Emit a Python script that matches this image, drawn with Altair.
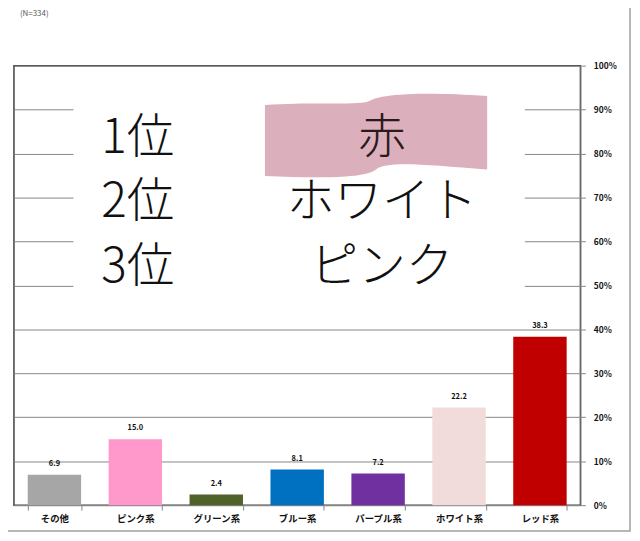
import altair as alt
import pandas as pd

categories = ["その他", "ピンク系", "グリーン系", "ブルー系", "パープル系", "ホワイト系", "レッド系"]
values = [6.9, 15.0, 2.4, 8.1, 7.2, 22.2, 38.3]
colors = ["#A6A6A6", "#FF99CC", "#4F6228", "#0070C0", "#7030A0", "#F2DCDB", "#C00000"]
ranks = ["1位", "2位", "3位"]
names = ["赤", "ホワイト", "ピンク"]
note = "(N=334)"

df = pd.DataFrame({"cat": categories, "val": values, "col": colors,
                   "lab": [f"{v:.1f}" for v in values]})
one = pd.DataFrame({"k": [0]})

FONT = "Noto Sans CJK JP"

xenc = alt.X("cat:N", sort=categories, title=None,
             scale=alt.Scale(paddingInner=0.34, paddingOuter=0.17),
             axis=alt.Axis(orient="bottom", labelAngle=0, domainColor="#868686",
                           tickColor="#868686", tickSize=5, tickBand="extent",
                           labelFontSize=9.5, labelFont=FONT, labelFontWeight="bold",
                           labelColor="#111111", labelPadding=3))
yenc = alt.Y("val:Q", title=None,
             scale=alt.Scale(domain=[0, 100], nice=False),
             axis=alt.Axis(orient="right", values=list(range(0, 101, 10)),
                           labelExpr="datum.value + '%'", grid=True,
                           gridColor="#868686", gridWidth=1, domainColor="#868686",
                           tickColor="#868686", tickSize=5, labelPadding=8,
                           labelFontSize=8.5, labelFont=FONT, labelColor="#111111",
                           labelFontWeight="bold"))

base = alt.Chart(df)
bars = base.mark_bar().encode(x=xenc, y=yenc, color=alt.Color("col:N", scale=None))
labels = base.mark_text(dy=-11, fontSize=7.5, fontWeight="bold", font=FONT,
                        color="#111111", baseline="middle").encode(
    x=alt.X("cat:N", sort=categories), y="val:Q", text="lab:N")

white_box = alt.Chart(one).mark_rect(color="white").encode(
    x=alt.value(60), x2=alt.value(515), y=alt.value(12), y2=alt.value(238))

banner_path = ("M-1,-0.28 C-0.5,-0.31 -0.15,-0.27 -0.05,-0.32 "
               "C0.05,-0.38 0.45,-0.4 1,-0.36 L1,0.30 "
               "C0.45,0.26 0.1,0.22 0,0.3 C-0.1,0.38 -0.5,0.38 -1,0.36 Z")
banner = alt.Chart(one).mark_point(shape=banner_path, filled=True, color="#DCAFBC",
                                   opacity=1, size=224 * 224).encode(
    x=alt.value(365), y=alt.value(71))

row_y = [74, 139, 204]
rank_layers = []
for i in range(3):
    rank_layers.append(alt.Chart(one).mark_text(
        text=ranks[i], font=FONT, fontSize=48, fontWeight=300, color="#111111",
        align="left", baseline="middle").encode(x=alt.value(88), y=alt.value(row_y[i])))
    rank_layers.append(alt.Chart(one).mark_text(
        text=names[i], font=FONT, fontSize=48, fontWeight=300,
        color="#2a1a1a" if i == 0 else "#111111",
        align="center", baseline="middle").encode(x=alt.value(371), y=alt.value(row_y[i])))

note_text = alt.Chart(one).mark_text(text=note, font=FONT, fontSize=8, color="#595959",
                                     align="left", baseline="middle").encode(
    x=alt.value(6), y=alt.value(-52))

outer = alt.Chart(one).mark_rect(filled=False, stroke="#A0A0A0", strokeWidth=1.5).encode(
    x=alt.value(-11), x2=alt.value(621), y=alt.value(-90), y2=alt.value(469))

chart = alt.layer(bars, labels, white_box, banner, *rank_layers, note_text, outer).properties(
    width=571, height=443,
    padding={"left": 6, "top": 56, "right": 52, "bottom": 30},
    autosize=alt.AutoSizeParams(type="none"),
).configure_view(stroke="#404040", strokeWidth=1.5)

chart.save("out.html", embed_options={"renderer": "svg", "actions": False})
